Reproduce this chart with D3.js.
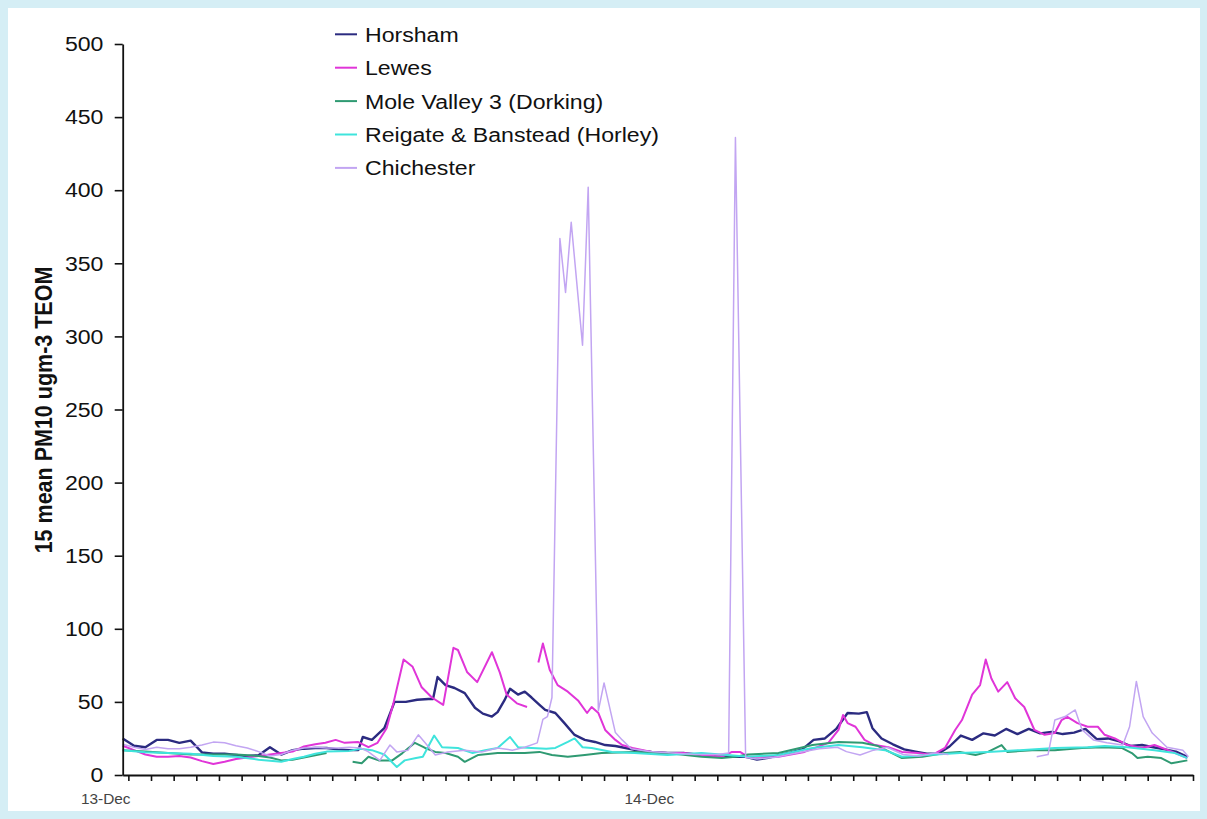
<!DOCTYPE html>
<html>
<head>
<meta charset="utf-8">
<script src="https://cdn.jsdelivr.net/npm/d3@7"></script>
<style>
  html, body { margin: 0; padding: 0; background: #d5eef5; }
  svg { display: block; }
  text { font-family: "Liberation Sans", Arial, sans-serif; }
</style>
</head>
<body>
<svg id="chart" width="1207" height="819"></svg>
<script>
// 15-minute mean PM10 (TEOM), hours counted from 13-Dec 00:00; null marks a data gap
const horsham = [[0.75,25],[1.25,20],[1.75,19],[2.25,24],[2.75,24],[3.25,22],[3.75,23.5],[4.25,15.5],[4.75,14.5],[5.25,14.5],[5.75,13.7],[6.25,13],[6.75,13.5],[7.25,19],[7.75,14],[8.25,17],[8.75,18],[9.25,18.5],[9.75,18.5],[10.25,17.5],[10.75,17],[11.15,17],[11.35,26],[11.75,24],[12.3,32],[12.75,50],[13.25,50],[13.75,51.5],[14.25,52],[14.45,52],[14.65,67],[15.0,61.5],[15.4,59.5],[15.85,56],[16.3,46],[16.65,42],[17.05,40],[17.3,43],[17.6,51],[17.85,59],[18.2,55],[18.5,57],[18.8,53],[19.15,48],[19.4,44.5],[19.85,42.4],[20.25,35.5],[20.7,27.4],[21.15,24],[21.6,22.6],[22.05,20.5],[22.5,19.8],[22.95,18.5],[23.4,17],[24.1,15.8],[24.8,15],[25.55,15],[26.3,13.7],[27.05,12.5],[27.8,12.5],[28.25,12.5],[28.75,10.5],[29.25,11.8],[29.75,13.7],[30.25,15.5],[30.75,17.5],[31.25,24],[31.75,25],[32.25,31.5],[32.75,42.4],[33.25,42],[33.6,43],[33.85,32],[34.25,25],[34.75,21],[35.25,17.5],[35.75,16],[36.25,14.5],[36.75,14.5],[37.25,19.5],[37.75,27],[38.25,24],[38.75,28.5],[39.25,27],[39.75,31.5],[40.25,28],[40.75,31.5],[41.25,28.5],[41.75,29.5],[42.25,28],[42.75,29],[43.25,31.5],[43.75,24.5],[44.25,25],[44.75,23],[45.25,19.8],[45.75,20.5],[46.25,19],[46.75,17.5],[47.25,16],[47.75,12.5]];

const lewes = [[0.75,20],[1.25,17],[1.75,14],[2.25,12.5],[2.75,12.5],[3.25,13],[3.75,12],[4.25,9.5],[4.75,7.5],[5.25,9],[5.75,11],[6.25,12],[6.75,13],[7.25,14],[7.75,15],[8.25,16],[8.75,19.5],[9.25,21],[9.7,22],[10.15,24],[10.55,22],[11.15,22.5],[11.6,19],[12.0,22],[12.4,32],[12.7,49],[13.15,79],[13.55,74],[13.95,60],[14.4,53],[14.9,48],[15.35,87],[15.55,85.5],[15.95,70.5],[16.4,63.5],[17.05,84],[17.4,70],[17.7,55],[18.15,49],[18.6,46.5],[18.85,null],[19.1,77],[19.3,90],[19.6,72],[19.95,61.5],[20.4,57],[20.85,51],[21.25,42.4],[21.45,46.5],[21.75,42.4],[22.05,30.8],[22.5,24],[22.8,20.5],[23.25,18.5],[24.1,15.8],[24.8,15],[25.55,15],[26.3,13.7],[27.2,12.5],[27.65,15.8],[28.0,15.8],[28.35,12.5],[29.7,12.5],[30.85,15.8],[31.9,22],[32.35,30.8],[32.55,41],[32.75,35.5],[33.1,33],[33.5,24],[33.95,20.5],[34.55,19],[35.15,15.8],[35.85,15],[36.5,13.7],[37.05,18.5],[37.5,30.8],[37.8,37.6],[38.25,55],[38.6,61.5],[38.85,79],[39.1,66],[39.4,57],[39.8,63.5],[40.15,52.5],[40.55,46.5],[41.0,30.8],[41.45,27.5],[41.9,28.7],[42.2,37.6],[42.45,39.7],[42.9,35.5],[43.35,33],[43.8,33],[44.1,27.5],[44.55,25],[45.1,20.5],[45.75,18.5],[46.3,20.5],[46.9,17],[47.75,11.5]];

const moleValley = [[0.75,17],[1.75,16],[2.75,15],[3.75,14],[4.75,14],[5.75,14],[6.75,13],[7.25,12],[7.75,10],[8.25,10.5],[8.75,12],[9.25,13.5],[9.75,15],[10.1,null],[10.9,9],[11.3,8],[11.6,12.5],[12.05,10],[12.65,10],[13.1,15],[13.65,22],[14.1,18.5],[14.55,15.8],[15.0,15],[15.55,12.5],[15.85,9],[16.45,13.7],[17.3,15],[18.5,15],[19.15,15.8],[19.7,13.7],[20.4,12.5],[21.15,13.7],[21.9,15],[23.35,15.8],[24.8,15],[26.3,12.5],[27.2,11.6],[27.8,12.5],[28.35,14],[29.7,15],[31.2,20.5],[32.35,22.6],[33.4,22],[34.1,19.8],[35.15,11.6],[36.05,12.5],[37.05,15],[37.7,15.8],[38.4,13.7],[38.95,15.8],[39.55,20.5],[39.8,15.8],[40.9,17],[41.9,17],[43.1,18.5],[44.0,19],[44.85,18.5],[45.3,15],[45.55,11.6],[46.0,12.5],[46.6,11.6],[47.05,8],[47.75,10]];

const reigate = [[0.75,17],[1.75,15.5],[2.75,15],[3.75,14.5],[4.75,13],[5.75,12.5],[6.75,10.5],[7.75,9],[8.25,11],[8.75,12.5],[9.25,14.5],[9.75,16],[10.75,16.5],[11.25,18],[11.75,17],[12.3,14],[12.85,5.5],[13.2,10],[13.7,11.6],[14.0,12.5],[14.5,27],[14.85,19],[15.55,18.5],[16.2,15],[16.75,17],[17.3,18.5],[17.85,26],[18.2,19],[18.8,18.5],[19.45,18],[19.85,18.5],[20.4,22.6],[20.7,25],[21.05,19],[21.45,18.5],[22.35,15.8],[23.35,15],[24.8,13.7],[26.3,15],[27.45,13.7],[28.35,12.5],[29.7,13.7],[31.2,18.5],[32.35,20.5],[33.4,19],[34.4,17],[35.15,12.5],[36.3,13.7],[37.7,15],[38.95,15.8],[40.35,17],[41.9,18.5],[43.35,19],[44.1,19.8],[45.1,19],[46.3,17],[47.2,15],[47.75,11.5]];

const chichester = [[0.75,21],[1.25,19],[1.75,17.5],[2.25,19],[2.75,18],[3.25,18],[3.75,19],[4.25,20.5],[4.75,22.5],[5.25,22],[5.75,20],[6.25,18.5],[6.75,16],[7.25,13],[7.75,14],[8.25,17],[8.75,18.5],[9.25,19],[9.75,18.5],[10.25,18.5],[10.75,19],[11.25,18.5],[11.6,15.8],[12.1,10],[12.55,20.5],[12.85,15.8],[13.35,17],[13.8,27.5],[14.1,22],[14.55,13.7],[15.1,15.8],[15.85,17],[16.6,15.8],[17.3,18.5],[17.95,17],[18.5,19],[19.05,22],[19.3,38],[19.5,40],[19.7,53],[20.05,367],[20.3,330],[20.55,378],[21.05,294],[21.3,402],[21.75,44],[22.0,63],[22.5,29],[22.8,24],[23.2,18],[24.0,16],[25.0,15],[26.0,14],[27.0,14],[27.5,15],[27.8,436],[28.25,12],[28.75,11],[29.5,12],[30.5,15],[31.5,18],[32.3,19],[32.7,16],[33.3,13.7],[33.9,17],[34.5,19],[35.2,14],[35.9,13],[36.6,15],[37.2,14],[37.5,null],[41.1,12.5],[41.6,14],[41.9,37.6],[42.35,40],[42.8,44.5],[43.1,31],[43.6,24],[44.2,22],[44.9,20.5],[45.2,33],[45.5,64],[45.8,40],[46.2,28.7],[46.85,19],[47.55,17],[47.8,12.5]];

const seriesNames = ["Horsham", "Lewes", "Mole Valley 3 (Dorking)", "Reigate & Banstead (Horley)", "Chichester"];
const seriesColors = ["#2b2b80", "#e035d8", "#2f9a72", "#3fe4dc", "#c2a5f2"];
const seriesWidths = [2.4, 2, 2, 2, 1.5];
const seriesData = [horsham, lewes, moleValley, reigate, chichester];

const yTicks = [0, 50, 100, 150, 200, 250, 300, 350, 400, 450, 500];
const dayLabels = [[0, "13-Dec"], [24, "14-Dec"]];
const yTitle = "15 mean PM10 ugm-3 TEOM";

const svg = d3.select("#chart");
const SX = 1.1; // horizontal text stretch

svg.append("rect").attr("x", 8).attr("y", 8).attr("width", 1192).attr("height", 803).attr("fill", "#ffffff");

const x = d3.scaleLinear().domain([0.75, 48]).range([122.7, 1193]);
const y = d3.scaleLinear().domain([0, 500]).range([775, 44]);

// series lines
const line = d3.line()
  .defined(d => d[1] !== null)
  .x(d => x(d[0]))
  .y(d => y(d[1]));

const plot = svg.append("g");
seriesData.forEach((data, i) => {
  plot.append("path")
    .datum(data)
    .attr("fill", "none")
    .attr("stroke", seriesColors[i])
    .attr("stroke-width", seriesWidths[i])
    .attr("stroke-linejoin", "round")
    .attr("d", line);
});

// y axis
const yAxis = svg.append("g")
  .attr("transform", "translate(122.7,0)")
  .call(d3.axisLeft(y).tickValues(yTicks).tickSize(8).tickPadding(9.5).tickSizeOuter(0));
yAxis.select(".domain").attr("stroke", "#111").attr("stroke-width", 1.8);
yAxis.selectAll(".tick line").attr("stroke", "#111").attr("stroke-width", 1.6);
yAxis.selectAll(".tick text")
  .attr("font-size", 21)
  .attr("font-family", "Liberation Sans, Arial, sans-serif")
  .attr("fill", "#111")
  .attr("transform", `scale(${SX},1)`);

// x axis with hourly ticks
const xAxis = svg.append("g")
  .attr("transform", "translate(0,775)")
  .call(d3.axisBottom(x).tickValues(d3.range(1, 49)).tickSize(6).tickFormat("").tickSizeOuter(0));
xAxis.select(".domain").attr("stroke", "#111").attr("stroke-width", 1.8);
xAxis.selectAll(".tick line").attr("stroke", "#111").attr("stroke-width", 1.6);

svg.append("g").selectAll("text")
  .data(dayLabels)
  .join("text")
  .attr("transform", d => `translate(${x(d[0])},804) scale(${SX},1)`)
  .attr("text-anchor", "middle")
  .attr("font-size", 14)
  .attr("fill", "#444")
  .text(d => d[1]);

// y axis title
svg.append("text")
  .attr("transform", `translate(52,410) scale(${SX},1) rotate(-90)`)
  .attr("text-anchor", "middle")
  .attr("font-size", 21.5)
  .attr("font-weight", "bold")
  .attr("fill", "#111")
  .text(yTitle);

// legend
const legend = svg.append("g");
seriesNames.forEach((name, i) => {
  const ly = 34.3 + i * 33.4;
  legend.append("line")
    .attr("x1", 335).attr("x2", 357)
    .attr("y1", ly).attr("y2", ly)
    .attr("stroke", seriesColors[i])
    .attr("stroke-width", 2);
  legend.append("text")
    .attr("transform", `translate(365,${ly + 7.5}) scale(${SX},1)`)
    .attr("font-size", 21)
    .attr("fill", "#111")
    .text(name);
});
</script>
</body>
</html>
